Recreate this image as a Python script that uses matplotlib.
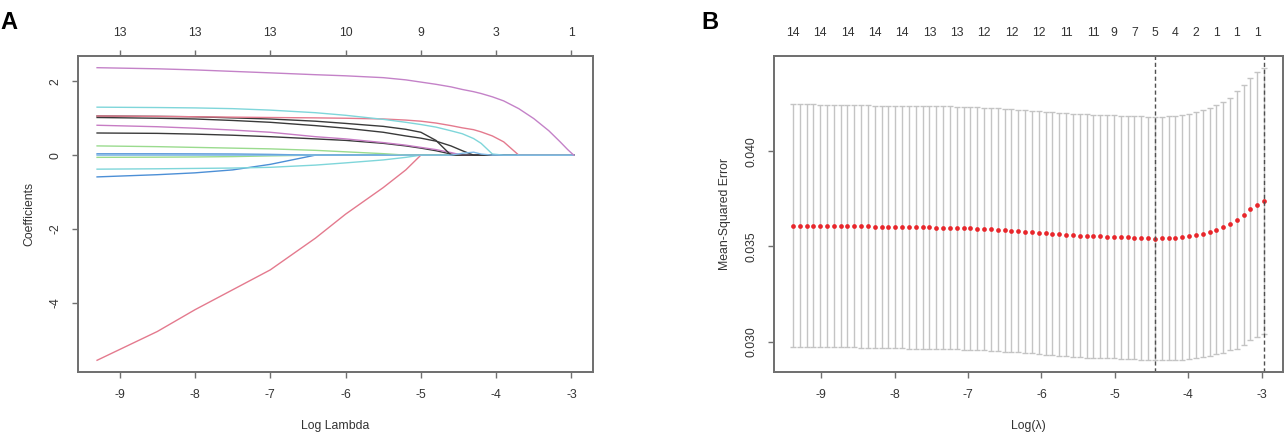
import numpy as np
import matplotlib
matplotlib.use("Agg")
import matplotlib.pyplot as plt

plt.rcParams['font.family'] = ['Liberation Sans', 'DejaVu Sans']
plt.rcParams['axes.unicode_minus'] = False

# ---- Panel A: coefficient paths ----
log_lambda_a = [-9.3, -8.5, -8.0, -7.5, -7.0, -6.4, -6.0, -5.5, -5.2, -5.0, -4.8, -4.6,
                -4.45, -4.3, -4.2, -4.05, -3.9, -3.7, -3.5, -3.3, -3.15, -3.05, -2.97]

coef_purple = [2.37, 2.34, 2.31, 2.27, 2.23, 2.18, 2.15, 2.10, 2.04, 1.98, 1.92, 1.85,
               1.78, 1.72, 1.67, 1.58, 1.47, 1.26, 0.99, 0.66, 0.36, 0.15, 0.0]
coef_cyan = [1.30, 1.29, 1.28, 1.26, 1.22, 1.15, 1.08, 0.97, 0.89, 0.83, 0.76, 0.66,
             0.58, 0.45, 0.32, 0.03, 0, 0, 0, 0, 0, 0, 0]
coef_pink = [1.06, 1.05, 1.04, 1.03, 1.02, 1.01, 1.00, 0.98, 0.95, 0.92, 0.87, 0.80,
             0.74, 0.69, 0.63, 0.52, 0.36, 0, 0, 0, 0, 0, 0]
coef_black_a = [1.06, 1.05, 1.04, 1.01, 0.98, 0.92, 0.86, 0.78, 0.70, 0.62, 0.40, 0,
                0, 0, 0, 0, 0, 0, 0, 0, 0, 0, 0]
coef_black_b = [1.02, 1.00, 0.98, 0.94, 0.89, 0.80, 0.73, 0.62, 0.52, 0.46, 0.38, 0.25,
                0.12, 0, 0, 0, 0, 0, 0, 0, 0, 0, 0]
coef_magenta = [0.81, 0.77, 0.73, 0.68, 0.62, 0.50, 0.44, 0.34, 0.27, 0.21, 0.15, 0.07,
                0, 0, 0, 0, 0, 0, 0, 0, 0, 0, 0]
coef_black_c = [0.60, 0.59, 0.57, 0.54, 0.50, 0.44, 0.40, 0.32, 0.25, 0.19, 0.12, 0.03,
                0, 0, 0, 0, 0, 0, 0, 0, 0, 0, 0]
coef_green = [0.25, 0.23, 0.21, 0.19, 0.17, 0.13, 0.09, 0.04, 0, 0, 0, 0,
              0, 0, 0, 0, 0, 0, 0, 0, 0, 0, 0]
coef_blue = [0.035, 0.035, 0.033, 0.03, 0.02, 0, 0, 0, 0, 0, 0, 0,
             0, 0, 0, 0, 0, 0, 0, 0, 0, 0, 0]
coef_ltgreen = [-0.06, -0.055, -0.05, -0.04, -0.02, 0, 0, 0, 0, 0, 0, 0,
                0, 0, 0, 0, 0, 0, 0, 0, 0, 0, 0]
coef_cyan2 = [-0.38, -0.37, -0.36, -0.35, -0.33, -0.27, -0.21, -0.13, -0.06, 0, 0, 0,
              0, 0, 0, 0, 0, 0, 0, 0, 0, 0, 0]
coef_blue2 = [-0.59, -0.53, -0.48, -0.40, -0.25, 0, 0, 0, 0, 0, 0, 0,
              0, 0, 0, 0, 0, 0, 0, 0, 0, 0, 0]
coef_red = [-5.56, -4.78, -4.19, -3.65, -3.11, -2.25, -1.60, -0.88, -0.40, 0, 0, 0,
            0, 0, 0, 0, 0, 0, 0, 0, 0, 0, 0]
coef_bump = [0, 0, 0, 0, 0, 0, 0, 0, 0, 0, 0, 0,
             0.05, 0.08, 0.03, 0, 0, 0, 0, 0, 0, 0, 0]

paths = [
    (coef_red, '#E47A8E'), (coef_blue2, '#4C8FD6'), (coef_cyan2, '#7FD6DA'),
    (coef_ltgreen, '#9ADB8E'), (coef_blue, '#4C8FD6'), (coef_green, '#9ADB8E'),
    (coef_black_c, '#3A3A3A'), (coef_magenta, '#C77CC4'), (coef_black_b, '#3A3A3A'),
    (coef_black_a, '#3A3A3A'), (coef_pink, '#E47A8E'), (coef_cyan, '#7FD6DA'),
    (coef_bump, '#7FB8E6'), (coef_purple, '#C482C8'),
]

a_top_ticks = [-9, -8, -7, -6, -5, -4, -3]
a_top_labels = ['13', '13', '13', '10', '9', '3', '1']

# ---- Panel B: cross-validation curve ----
log_lambda_b = [-9.384, -9.291, -9.198, -9.105, -9.012, -8.919, -8.826, -8.733, -8.640, -8.547,
                -8.454, -8.361, -8.268, -8.175, -8.082, -7.989, -7.896, -7.803, -7.710, -7.617,
                -7.524, -7.431, -7.338, -7.245, -7.152, -7.059, -6.966, -6.873, -6.780, -6.687,
                -6.594, -6.501, -6.408, -6.315, -6.222, -6.129, -6.036, -5.943, -5.850, -5.757,
                -5.664, -5.571, -5.478, -5.385, -5.292, -5.199, -5.106, -5.013, -4.920, -4.827,
                -4.734, -4.641, -4.548, -4.455, -4.362, -4.269, -4.176, -4.083, -3.990, -3.897,
                -3.804, -3.711, -3.618, -3.525, -3.432, -3.339, -3.246, -3.153, -3.060, -2.967]

mse = [0.03610, 0.03610, 0.03610, 0.03610, 0.03609, 0.03609, 0.03609, 0.03608,
       0.03606, 0.03606, 0.03605, 0.03605, 0.03604, 0.03604, 0.03603,
       0.03602, 0.03602, 0.03601, 0.03601, 0.03600, 0.03600, 0.03599, 0.03599,
       0.03598, 0.03597, 0.03596, 0.03595, 0.03594, 0.03592,
       0.03590, 0.03588, 0.03586, 0.03583,
       0.03581, 0.03578, 0.03576,
       0.03573, 0.03570, 0.03567, 0.03564,
       0.03561, 0.03559, 0.03557, 0.03555,
       0.03554, 0.03553, 0.03552, 0.03551, 0.03549, 0.03548,
       0.03546, 0.03545, 0.03543, 0.03541,
       0.03542, 0.03543, 0.03545, 0.03548,
       0.03553, 0.03559, 0.03567, 0.03577, 0.03588, 0.03600, 0.03617, 0.03638,
       0.03665, 0.03695, 0.03720, 0.03739]

mse_se = [0.00635, 0.00635, 0.00635, 0.00635, 0.00635, 0.00635, 0.00635, 0.00635,
          0.00635, 0.00635, 0.00635, 0.00635, 0.00635, 0.00635, 0.00635, 0.00635,
          0.00637, 0.00637, 0.00637, 0.00637, 0.00637, 0.00637, 0.00637, 0.00637,
          0.00637, 0.00637, 0.00637, 0.00637, 0.00637, 0.00637, 0.00637, 0.00637,
          0.00637, 0.00637, 0.00637, 0.00637,
          0.00638, 0.00638, 0.00638, 0.00638, 0.00638, 0.00638, 0.00638, 0.00638,
          0.00638, 0.00638, 0.00638, 0.00638, 0.00638, 0.00638, 0.00638, 0.00638,
          0.00638, 0.00638,
          0.00639, 0.00639, 0.00640, 0.00641, 0.00644, 0.00645, 0.00648, 0.00651,
          0.00654, 0.00659, 0.00662, 0.00676, 0.00682, 0.00688, 0.00696, 0.00699]

b_top_idx = [0, 4, 8, 12, 16, 20, 24, 28, 32, 36, 40, 44, 47, 50, 53, 56, 59, 62, 65, 68]
b_top_labels = ['14', '14', '14', '14', '14', '13', '13', '12', '12', '12',
                '11', '11', '9', '7', '5', '4', '2', '1', '1', '1']

frame_col = '#707070'
text_col = '#333333'
fs = 8.8


def r_lims(lo, hi):
    pad = (hi - lo) * 0.04
    return lo - pad, hi + pad


def style_axes(ax):
    for s in ax.spines.values():
        s.set_color(frame_col)
        s.set_linewidth(1.3)
    ax.tick_params(colors=frame_col, labelcolor=text_col, labelsize=fs,
                   length=4, width=1.0, pad=8)


fig = plt.figure(figsize=(12.87, 4.33), dpi=100)

# Panel A
ax1 = fig.add_axes([0.0606, 0.1409, 0.400, 0.7298])
for vals, col in paths:
    ax1.plot(log_lambda_a, vals, color=col, lw=1.0)
all_vals = np.concatenate([np.array(v) for v, c in paths])
ax1.set_xlim(*r_lims(min(log_lambda_a), max(log_lambda_a)))
ax1.set_ylim(*r_lims(all_vals.min(), all_vals.max()))
ax1.set_xticks([-9, -8, -7, -6, -5, -4, -3])
ax1.set_yticks([-4, -2, 0, 2])
style_axes(ax1)
for t in ax1.get_yticklabels():
    t.set_rotation(90)
    t.set_va('center')
ax1.set_xlabel('Log Lambda', fontsize=fs, color=text_col, labelpad=14)
ax1.set_ylabel('Coefficients', fontsize=fs, color=text_col, labelpad=10)
top1 = ax1.twiny()
top1.set_xlim(ax1.get_xlim())
top1.set_xticks(a_top_ticks)
top1.set_xticklabels(a_top_labels)
style_axes(top1)

# Panel B
ax2 = fig.add_axes([0.6014, 0.1409, 0.3955, 0.7298])
mse_arr = np.array(mse)
se_arr = np.array(mse_se)
ax2.errorbar(log_lambda_b, mse_arr, yerr=se_arr, fmt='none', ecolor='#C4C4C4',
             elinewidth=1.0, capsize=1.9, capthick=1.0)
ax2.plot(log_lambda_b, mse_arr, 'o', color='#E8262B', markersize=3.4, markeredgewidth=0)
i_min = int(np.argmin(mse_arr))
thresh = mse_arr[i_min] + se_arr[i_min]
i_1se = max(i for i in range(len(mse)) if mse_arr[i] <= thresh)
for i in (i_min, i_1se):
    ax2.axvline(log_lambda_b[i], color='#505050', ls=(0, (3, 2)), lw=1.0)
ax2.set_xlim(*r_lims(min(log_lambda_b), max(log_lambda_b)))
ax2.set_ylim(*r_lims((mse_arr - se_arr).min(), (mse_arr + se_arr).max()))
ax2.set_xticks([-9, -8, -7, -6, -5, -4, -3])
ax2.set_yticks([0.030, 0.035, 0.040])
ax2.set_yticklabels(['0.030', '0.035', '0.040'])
style_axes(ax2)
for t in ax2.get_yticklabels():
    t.set_rotation(90)
    t.set_va('center')
ax2.set_xlabel('Log(\u03bb)', fontsize=fs, color=text_col, labelpad=14)
ax2.set_ylabel('Mean-Squared Error', fontsize=fs, color=text_col, labelpad=10)
top2 = ax2.twiny()
top2.set_xlim(ax2.get_xlim())
top2.set_xticks([log_lambda_b[i] for i in b_top_idx])
top2.set_xticklabels(b_top_labels)
style_axes(top2)
top2.tick_params(length=0, pad=12)

fig.text(0.0, 0.975, 'A', fontsize=17, fontweight='bold', va='top', ha='left')
fig.text(0.545, 0.975, 'B', fontsize=17, fontweight='bold', va='top', ha='left')

fig.savefig('out.png', dpi=100)
